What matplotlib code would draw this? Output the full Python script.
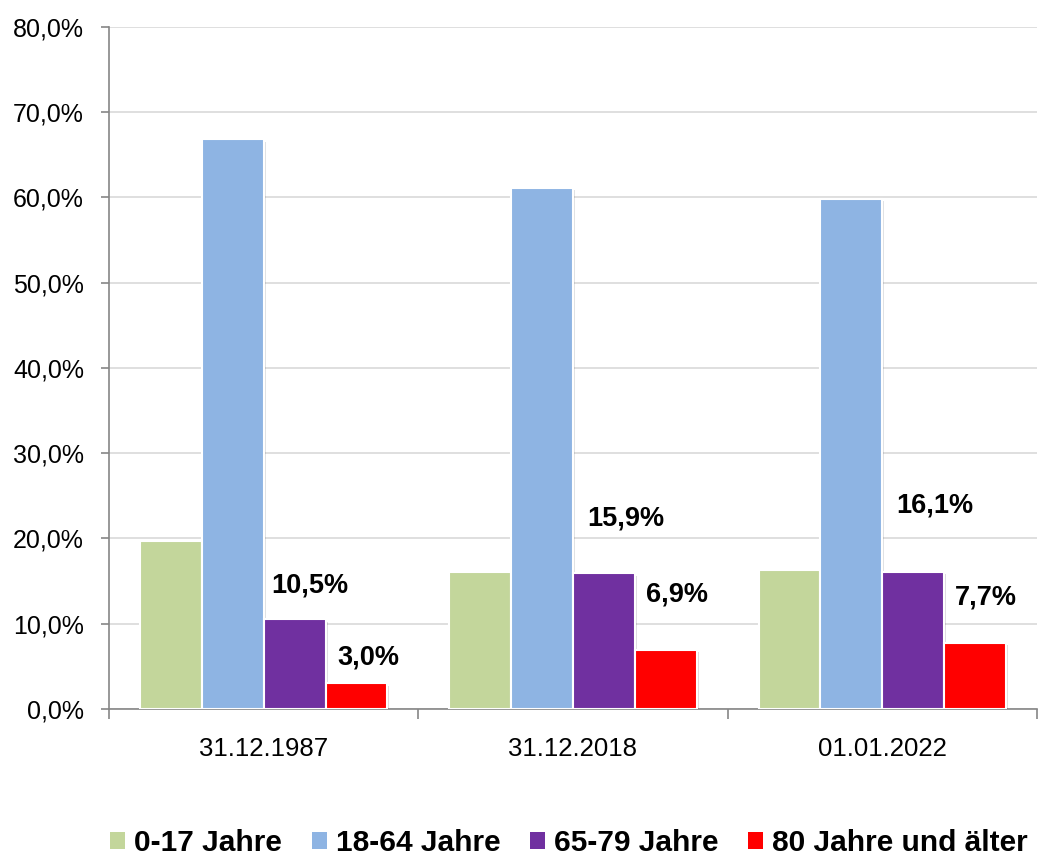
import numpy as np
import matplotlib.pyplot as plt
import matplotlib.patheffects as pe
from matplotlib.ticker import FuncFormatter

plt.rcParams['font.family'] = ['Liberation Sans', 'DejaVu Sans']

dates = ['31.12.1987', '31.12.2018', '01.01.2022']
groups = ['0-17 Jahre', '18-64 Jahre', '65-79 Jahre', '80 Jahre und älter']
share_0_17 = [19.7, 16.1, 16.3]
share_18_64 = [66.8, 61.1, 59.8]
share_65_79 = [10.5, 15.9, 16.1]
share_80 = [3.0, 6.9, 7.7]

colors = ['#c3d69b', '#8eb4e3', '#7030a0', '#ff0000']

fig = plt.figure(figsize=(10.5, 8.64), dpi=100)
ax = fig.add_axes([0.1038, 0.1794, 0.8838, 0.7894])

x = np.arange(len(dates))
w = 0.2
series = [share_0_17, share_18_64, share_65_79, share_80]
shadow = [pe.SimplePatchShadow(offset=(1.5, -1.5), alpha=0.15), pe.Normal()]
for i, vals in enumerate(series):
    bars = ax.bar(x + (i - 1.5) * w, vals, w, color=colors[i], edgecolor='white',
                  linewidth=1.5, label=groups[i], zorder=3)
    for b in bars:
        b.set_path_effects(shadow)

# data labels only for the two older groups, nudged like in the original
label_shift = {2: [(0.05, 4.0), (0.07, 6.4), (0.07, 7.8)],
               3: [(0.04, 3.0), (0.035, 6.5), (0.035, 5.4)]}
for i, shifts in label_shift.items():
    for j, (dx, dy) in enumerate(shifts):
        v = series[i][j]
        ax.text(x[j] + (i - 1.5) * w + dx, v + dy,
                f'{v:.1f}%'.replace('.', ','), ha='center', va='center',
                fontsize=19.5, fontweight='bold', zorder=4)

ax.set_xlim(-0.5, 2.5)
ax.set_ylim(0, 80)
ax.set_yticks(np.arange(0, 81, 10))
ax.yaxis.set_major_formatter(FuncFormatter(lambda v, p: f'{v:.1f}%'.replace('.', ',')))
ax.grid(axis='y', color='#d9d9d9', linewidth=1.2, zorder=0)

ax.set_xticks(np.arange(-0.5, 2.6, 1))
ax.set_xticklabels([])
ax.set_xticks(x, minor=True)
ax.set_xticklabels(dates, minor=True)
ax.tick_params(axis='x', which='major', length=7, color='#868686', width=1.2)
ax.tick_params(axis='x', which='minor', length=0, pad=20, labelsize=18.5)
ax.tick_params(axis='y', length=6, color='#868686', width=1.2, labelsize=18, pad=12)

for s in ['top', 'right']:
    ax.spines[s].set_visible(False)
for s in ['left', 'bottom']:
    ax.spines[s].set_color('#868686')
    ax.spines[s].set_linewidth(1.2)

leg = fig.legend(loc='center', bbox_to_anchor=(0.542, 0.024), ncol=4, frameon=False,
                 prop={'size': 21.5, 'weight': 'bold'}, handlelength=0.5, handleheight=0.5,
                 handletextpad=0.3, columnspacing=1.0, borderaxespad=0, borderpad=0)
for h in leg.legend_handles:
    h.set_path_effects([])
    h.set_edgecolor('none')

fig.savefig('out.png', dpi=100)
